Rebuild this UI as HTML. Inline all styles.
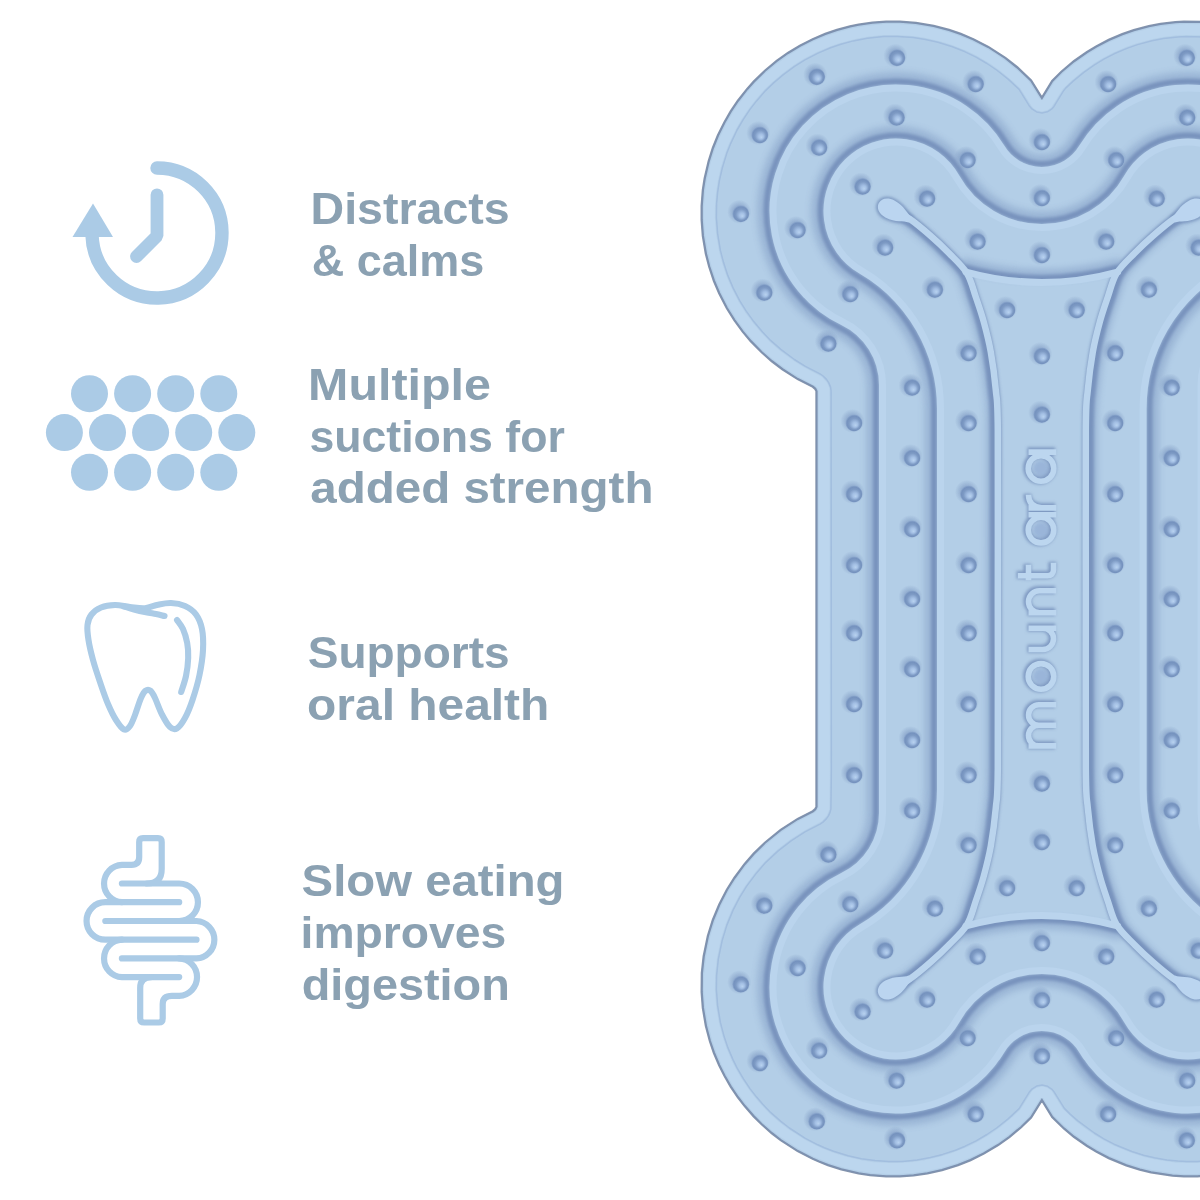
<!DOCTYPE html>
<html><head><meta charset="utf-8"><style>
html,body{margin:0;padding:0;background:#fff;}
body{width:1200px;height:1200px;position:relative;overflow:hidden;}
svg{position:absolute;left:0;top:0;}
.t{font-family:"Liberation Sans",sans-serif;font-weight:bold;font-size:44px;fill:#8ba1b2;}
.ic{fill:none;stroke:#abcbe6;stroke-linecap:round;stroke-linejoin:round;}
</style></head><body>

<svg class="bone" width="1200" height="1200" viewBox="0 0 1200 1200">
<defs>
 <radialGradient id="dg" cx="50%" cy="50%" r="50%" fx="60%" fy="64%">
  <stop offset="0" stop-color="#b8d2ef"/>
  <stop offset="0.3" stop-color="#a3bfe4"/>
  <stop offset="0.65" stop-color="#7d9ac4"/>
  <stop offset="0.85" stop-color="#7592be"/>
  <stop offset="1" stop-color="#8fabd0"/>
 </radialGradient>
 <radialGradient id="dh" cx="50%" cy="50%" r="50%">
  <stop offset="0.45" stop-color="#8aa5ca" stop-opacity="0.85"/>
  <stop offset="1" stop-color="#8aa5ca" stop-opacity="0"/>
 </radialGradient>
 <g id="dot"><circle r="12" cx="-1.5" cy="-2" fill="url(#dh)"/><circle r="8.5" fill="url(#dg)"/></g>
 <filter id="b1" filterUnits="userSpaceOnUse" x="-2000" y="-2000" width="4000" height="4000"><feGaussianBlur stdDeviation="1.4"/></filter>
 <filter id="b2" filterUnits="userSpaceOnUse" x="-2000" y="-2000" width="4000" height="4000"><feGaussianBlur stdDeviation="0.7"/></filter>
 <filter id="b3" filterUnits="userSpaceOnUse" x="-2000" y="-2000" width="4000" height="4000"><feGaussianBlur stdDeviation="3"/></filter>
 <clipPath id="bc"><path d="M1197.4,1176.0 L1183.9,1176.0 L1172.4,1175.2 L1151.1,1172.0 L1139.9,1169.2 L1126.4,1165.0 L1108.9,1157.8 L1096.4,1151.2 L1086.9,1145.5 L1074.1,1136.5 L1064.1,1128.2 L1052.5,1116.9 L1041.9,1099.5 L1030.8,1117.4 L1020.9,1127.0 L1009.1,1136.8 L997.9,1144.8 L983.6,1153.2 L970.4,1159.8 L957.9,1164.8 L941.9,1169.8 L927.4,1173.0 L913.6,1175.0 L899.9,1176.0 L886.1,1176.0 L870.1,1174.8 L858.6,1173.0 L841.4,1169.0 L828.1,1164.8 L819.1,1161.2 L812.9,1158.5 L797.9,1150.8 L780.9,1139.8 L772.1,1133.0 L761.9,1124.0 L754.0,1116.1 L745.0,1105.9 L738.2,1097.1 L731.0,1086.4 L724.8,1075.6 L719.5,1065.1 L714.2,1052.6 L710.2,1040.9 L706.2,1025.6 L703.2,1007.9 L702.0,991.9 L702.2,973.1 L704.0,956.6 L708.2,936.1 L713.2,920.1 L719.5,904.9 L727.2,889.9 L734.8,877.9 L745.0,864.1 L754.0,853.9 L765.1,843.0 L780.9,830.2 L797.9,819.2 L813.1,811.5 L815.5,809.4 L816.8,806.9 L816.8,391.1 L815.5,388.6 L813.1,386.5 L797.9,378.8 L782.6,369.0 L772.1,361.0 L761.9,352.0 L751.0,340.9 L743.0,331.4 L734.8,320.1 L727.2,308.1 L719.5,293.1 L714.2,280.6 L709.5,266.4 L706.2,253.6 L703.2,235.9 L702.0,219.9 L702.0,206.1 L703.2,190.1 L705.0,178.6 L709.0,161.4 L713.2,148.1 L718.2,135.6 L724.8,122.4 L731.0,111.6 L738.2,100.9 L747.5,89.1 L754.0,81.9 L765.1,71.0 L776.9,61.2 L788.1,53.2 L800.1,46.0 L812.9,39.5 L825.4,34.2 L837.1,30.2 L850.1,26.8 L858.6,25.0 L872.4,23.0 L886.1,22.0 L899.9,22.0 L915.9,23.2 L933.6,26.2 L948.9,30.2 L960.6,34.2 L973.1,39.5 L988.1,47.2 L1005.1,58.2 L1016.9,67.5 L1030.8,80.6 L1041.9,98.5 L1052.5,81.1 L1061.6,72.0 L1074.1,61.5 L1086.9,52.5 L1096.4,46.8 L1108.9,40.2 L1122.4,34.5 L1133.9,30.5 L1148.9,26.5 L1160.6,24.2 L1175.4,22.5 L1183.9,22.0 L1202.4,22.2 L1215.4,23.5 L1232.4,26.5 L1244.9,29.8 L1256.9,33.8 L1267.4,38.0 L1278.9,43.5 L1289.1,49.2 L1300.6,56.8 L1309.6,63.5 L1320.4,72.8 L1331.0,83.4 L1336.5,89.6 L1344.2,99.4 L1351.0,109.1 L1357.8,120.4 L1363.8,132.1 L1369.2,145.1 L1372.5,154.4 L1377.5,173.1 L1380.2,189.4 L1381.5,203.9 L1381.5,222.1 L1379.8,240.4 L1376.2,258.4 L1371.2,275.4 L1365.0,291.1 L1359.2,302.9 L1351.0,316.9 L1342.8,328.6 L1331.0,342.6 L1320.4,353.2 L1307.4,364.2 L1300.6,369.2 L1289.1,376.8 L1278.9,382.5 L1270.4,386.5 L1268.0,388.6 L1266.8,391.1 L1266.8,806.9 L1268.0,809.4 L1269.6,811.0 L1282.1,817.2 L1292.4,823.2 L1307.4,833.8 L1320.4,844.8 L1331.0,855.4 L1342.8,869.4 L1351.0,881.1 L1359.2,895.1 L1366.0,909.1 L1371.2,922.6 L1375.8,937.6 L1379.2,954.4 L1381.5,975.9 L1381.5,994.1 L1380.8,1004.1 L1379.0,1017.1 L1375.8,1032.4 L1371.2,1047.4 L1365.0,1063.1 L1357.8,1077.6 L1348.0,1093.4 L1339.0,1105.4 L1331.0,1114.6 L1315.6,1129.5 L1302.4,1140.0 L1289.1,1148.8 L1273.4,1157.2 L1258.9,1163.5 L1244.9,1168.2 L1228.9,1172.2 L1213.4,1174.8 L1197.4,1176.0Z"/></clipPath>
</defs>
<path d="M1197.4,1176.0 L1183.9,1176.0 L1172.4,1175.2 L1151.1,1172.0 L1139.9,1169.2 L1126.4,1165.0 L1108.9,1157.8 L1096.4,1151.2 L1086.9,1145.5 L1074.1,1136.5 L1064.1,1128.2 L1052.5,1116.9 L1041.9,1099.5 L1030.8,1117.4 L1020.9,1127.0 L1009.1,1136.8 L997.9,1144.8 L983.6,1153.2 L970.4,1159.8 L957.9,1164.8 L941.9,1169.8 L927.4,1173.0 L913.6,1175.0 L899.9,1176.0 L886.1,1176.0 L870.1,1174.8 L858.6,1173.0 L841.4,1169.0 L828.1,1164.8 L819.1,1161.2 L812.9,1158.5 L797.9,1150.8 L780.9,1139.8 L772.1,1133.0 L761.9,1124.0 L754.0,1116.1 L745.0,1105.9 L738.2,1097.1 L731.0,1086.4 L724.8,1075.6 L719.5,1065.1 L714.2,1052.6 L710.2,1040.9 L706.2,1025.6 L703.2,1007.9 L702.0,991.9 L702.2,973.1 L704.0,956.6 L708.2,936.1 L713.2,920.1 L719.5,904.9 L727.2,889.9 L734.8,877.9 L745.0,864.1 L754.0,853.9 L765.1,843.0 L780.9,830.2 L797.9,819.2 L813.1,811.5 L815.5,809.4 L816.8,806.9 L816.8,391.1 L815.5,388.6 L813.1,386.5 L797.9,378.8 L782.6,369.0 L772.1,361.0 L761.9,352.0 L751.0,340.9 L743.0,331.4 L734.8,320.1 L727.2,308.1 L719.5,293.1 L714.2,280.6 L709.5,266.4 L706.2,253.6 L703.2,235.9 L702.0,219.9 L702.0,206.1 L703.2,190.1 L705.0,178.6 L709.0,161.4 L713.2,148.1 L718.2,135.6 L724.8,122.4 L731.0,111.6 L738.2,100.9 L747.5,89.1 L754.0,81.9 L765.1,71.0 L776.9,61.2 L788.1,53.2 L800.1,46.0 L812.9,39.5 L825.4,34.2 L837.1,30.2 L850.1,26.8 L858.6,25.0 L872.4,23.0 L886.1,22.0 L899.9,22.0 L915.9,23.2 L933.6,26.2 L948.9,30.2 L960.6,34.2 L973.1,39.5 L988.1,47.2 L1005.1,58.2 L1016.9,67.5 L1030.8,80.6 L1041.9,98.5 L1052.5,81.1 L1061.6,72.0 L1074.1,61.5 L1086.9,52.5 L1096.4,46.8 L1108.9,40.2 L1122.4,34.5 L1133.9,30.5 L1148.9,26.5 L1160.6,24.2 L1175.4,22.5 L1183.9,22.0 L1202.4,22.2 L1215.4,23.5 L1232.4,26.5 L1244.9,29.8 L1256.9,33.8 L1267.4,38.0 L1278.9,43.5 L1289.1,49.2 L1300.6,56.8 L1309.6,63.5 L1320.4,72.8 L1331.0,83.4 L1336.5,89.6 L1344.2,99.4 L1351.0,109.1 L1357.8,120.4 L1363.8,132.1 L1369.2,145.1 L1372.5,154.4 L1377.5,173.1 L1380.2,189.4 L1381.5,203.9 L1381.5,222.1 L1379.8,240.4 L1376.2,258.4 L1371.2,275.4 L1365.0,291.1 L1359.2,302.9 L1351.0,316.9 L1342.8,328.6 L1331.0,342.6 L1320.4,353.2 L1307.4,364.2 L1300.6,369.2 L1289.1,376.8 L1278.9,382.5 L1270.4,386.5 L1268.0,388.6 L1266.8,391.1 L1266.8,806.9 L1268.0,809.4 L1269.6,811.0 L1282.1,817.2 L1292.4,823.2 L1307.4,833.8 L1320.4,844.8 L1331.0,855.4 L1342.8,869.4 L1351.0,881.1 L1359.2,895.1 L1366.0,909.1 L1371.2,922.6 L1375.8,937.6 L1379.2,954.4 L1381.5,975.9 L1381.5,994.1 L1380.8,1004.1 L1379.0,1017.1 L1375.8,1032.4 L1371.2,1047.4 L1365.0,1063.1 L1357.8,1077.6 L1348.0,1093.4 L1339.0,1105.4 L1331.0,1114.6 L1315.6,1129.5 L1302.4,1140.0 L1289.1,1148.8 L1273.4,1157.2 L1258.9,1163.5 L1244.9,1168.2 L1228.9,1172.2 L1213.4,1174.8 L1197.4,1176.0Z" fill="none" stroke="#8796ad" stroke-width="3" filter="url(#b2)"/>
<path d="M1197.4,1176.0 L1183.9,1176.0 L1172.4,1175.2 L1151.1,1172.0 L1139.9,1169.2 L1126.4,1165.0 L1108.9,1157.8 L1096.4,1151.2 L1086.9,1145.5 L1074.1,1136.5 L1064.1,1128.2 L1052.5,1116.9 L1041.9,1099.5 L1030.8,1117.4 L1020.9,1127.0 L1009.1,1136.8 L997.9,1144.8 L983.6,1153.2 L970.4,1159.8 L957.9,1164.8 L941.9,1169.8 L927.4,1173.0 L913.6,1175.0 L899.9,1176.0 L886.1,1176.0 L870.1,1174.8 L858.6,1173.0 L841.4,1169.0 L828.1,1164.8 L819.1,1161.2 L812.9,1158.5 L797.9,1150.8 L780.9,1139.8 L772.1,1133.0 L761.9,1124.0 L754.0,1116.1 L745.0,1105.9 L738.2,1097.1 L731.0,1086.4 L724.8,1075.6 L719.5,1065.1 L714.2,1052.6 L710.2,1040.9 L706.2,1025.6 L703.2,1007.9 L702.0,991.9 L702.2,973.1 L704.0,956.6 L708.2,936.1 L713.2,920.1 L719.5,904.9 L727.2,889.9 L734.8,877.9 L745.0,864.1 L754.0,853.9 L765.1,843.0 L780.9,830.2 L797.9,819.2 L813.1,811.5 L815.5,809.4 L816.8,806.9 L816.8,391.1 L815.5,388.6 L813.1,386.5 L797.9,378.8 L782.6,369.0 L772.1,361.0 L761.9,352.0 L751.0,340.9 L743.0,331.4 L734.8,320.1 L727.2,308.1 L719.5,293.1 L714.2,280.6 L709.5,266.4 L706.2,253.6 L703.2,235.9 L702.0,219.9 L702.0,206.1 L703.2,190.1 L705.0,178.6 L709.0,161.4 L713.2,148.1 L718.2,135.6 L724.8,122.4 L731.0,111.6 L738.2,100.9 L747.5,89.1 L754.0,81.9 L765.1,71.0 L776.9,61.2 L788.1,53.2 L800.1,46.0 L812.9,39.5 L825.4,34.2 L837.1,30.2 L850.1,26.8 L858.6,25.0 L872.4,23.0 L886.1,22.0 L899.9,22.0 L915.9,23.2 L933.6,26.2 L948.9,30.2 L960.6,34.2 L973.1,39.5 L988.1,47.2 L1005.1,58.2 L1016.9,67.5 L1030.8,80.6 L1041.9,98.5 L1052.5,81.1 L1061.6,72.0 L1074.1,61.5 L1086.9,52.5 L1096.4,46.8 L1108.9,40.2 L1122.4,34.5 L1133.9,30.5 L1148.9,26.5 L1160.6,24.2 L1175.4,22.5 L1183.9,22.0 L1202.4,22.2 L1215.4,23.5 L1232.4,26.5 L1244.9,29.8 L1256.9,33.8 L1267.4,38.0 L1278.9,43.5 L1289.1,49.2 L1300.6,56.8 L1309.6,63.5 L1320.4,72.8 L1331.0,83.4 L1336.5,89.6 L1344.2,99.4 L1351.0,109.1 L1357.8,120.4 L1363.8,132.1 L1369.2,145.1 L1372.5,154.4 L1377.5,173.1 L1380.2,189.4 L1381.5,203.9 L1381.5,222.1 L1379.8,240.4 L1376.2,258.4 L1371.2,275.4 L1365.0,291.1 L1359.2,302.9 L1351.0,316.9 L1342.8,328.6 L1331.0,342.6 L1320.4,353.2 L1307.4,364.2 L1300.6,369.2 L1289.1,376.8 L1278.9,382.5 L1270.4,386.5 L1268.0,388.6 L1266.8,391.1 L1266.8,806.9 L1268.0,809.4 L1269.6,811.0 L1282.1,817.2 L1292.4,823.2 L1307.4,833.8 L1320.4,844.8 L1331.0,855.4 L1342.8,869.4 L1351.0,881.1 L1359.2,895.1 L1366.0,909.1 L1371.2,922.6 L1375.8,937.6 L1379.2,954.4 L1381.5,975.9 L1381.5,994.1 L1380.8,1004.1 L1379.0,1017.1 L1375.8,1032.4 L1371.2,1047.4 L1365.0,1063.1 L1357.8,1077.6 L1348.0,1093.4 L1339.0,1105.4 L1331.0,1114.6 L1315.6,1129.5 L1302.4,1140.0 L1289.1,1148.8 L1273.4,1157.2 L1258.9,1163.5 L1244.9,1168.2 L1228.9,1172.2 L1213.4,1174.8 L1197.4,1176.0Z" fill="#b3cee7" stroke="#7d91b0" stroke-width="1.6"/>
<g clip-path="url(#bc)" fill="none" stroke-linejoin="round" stroke-linecap="round">
 <path d="M1197.4,1168.4 L1185.6,1168.6 L1174.1,1167.9 L1152.9,1164.6 L1141.9,1162.0 L1129.6,1158.1 L1111.4,1150.6 L1100.4,1144.9 L1090.9,1139.1 L1081.4,1132.5 L1071.9,1125.0 L1058.7,1112.6 L1047.5,1094.6 L1045.1,1092.9 L1042.1,1092.1 L1038.9,1092.8 L1036.3,1094.6 L1024.5,1113.1 L1016.6,1120.8 L1003.9,1131.3 L993.9,1138.4 L979.6,1146.9 L967.9,1152.6 L955.1,1157.7 L939.9,1162.5 L925.6,1165.6 L911.9,1167.6 L898.1,1168.6 L887.9,1168.6 L871.9,1167.4 L860.4,1165.6 L846.1,1162.5 L831.4,1157.9 L821.9,1154.2 L815.4,1151.4 L801.9,1144.4 L785.1,1133.5 L776.4,1126.8 L766.1,1117.8 L757.2,1108.6 L751.2,1101.6 L744.5,1092.9 L737.4,1082.4 L731.1,1071.6 L726.6,1062.6 L721.3,1049.9 L717.6,1039.1 L713.6,1023.9 L710.6,1006.1 L709.4,990.1 L709.6,974.9 L711.6,956.9 L715.5,938.1 L720.3,922.9 L726.6,907.4 L733.6,893.9 L740.6,882.6 L751.2,868.4 L760.4,858.0 L773.4,845.7 L786.9,835.2 L801.9,825.6 L818.4,816.9 L822.2,812.6 L824.0,808.1 L824.4,769.9 L824.1,391.1 L823.8,388.9 L822.4,385.6 L818.4,381.1 L801.9,372.4 L790.6,365.4 L776.4,354.8 L766.1,345.8 L757.2,336.6 L749.2,327.1 L740.6,315.4 L733.6,304.1 L726.6,290.6 L721.3,277.9 L716.8,264.4 L713.6,251.9 L710.6,234.1 L709.4,218.1 L709.4,207.9 L710.6,191.9 L712.4,180.4 L715.5,166.1 L720.1,151.4 L723.9,141.6 L731.1,126.4 L737.4,115.6 L744.5,105.1 L751.2,96.4 L760.2,86.1 L769.4,77.2 L778.9,69.2 L790.6,60.6 L801.9,53.6 L815.4,46.6 L828.1,41.3 L838.9,37.6 L854.1,33.6 L868.1,31.1 L882.9,29.6 L898.1,29.4 L911.9,30.4 L925.6,32.4 L939.9,35.5 L954.6,40.1 L967.9,45.4 L979.6,51.1 L993.9,59.6 L1003.9,66.7 L1016.6,77.2 L1024.5,84.9 L1036.3,103.4 L1038.9,105.2 L1041.9,105.9 L1044.9,105.2 L1047.2,103.6 L1058.7,85.4 L1068.4,76.0 L1078.4,67.7 L1090.1,59.4 L1100.4,53.1 L1111.4,47.4 L1125.1,41.5 L1135.6,37.9 L1150.6,33.9 L1162.4,31.6 L1177.1,29.9 L1185.6,29.4 L1204.1,29.9 L1218.9,31.6 L1230.6,33.9 L1239.4,36.0 L1251.4,39.8 L1264.9,45.1 L1274.9,49.9 L1285.1,55.6 L1295.9,62.6 L1305.4,69.7 L1313.4,76.5 L1324.8,87.6 L1330.3,93.9 L1338.0,103.6 L1344.6,113.1 L1351.4,124.4 L1356.6,134.6 L1362.2,147.9 L1365.1,156.1 L1368.9,169.4 L1372.4,187.4 L1374.1,205.6 L1374.1,220.4 L1372.4,238.6 L1368.7,257.4 L1364.4,272.1 L1357.9,288.6 L1351.4,301.6 L1344.1,313.6 L1334.8,326.6 L1324.8,338.4 L1313.4,349.5 L1298.1,361.8 L1285.1,370.4 L1264.9,381.3 L1261.3,385.4 L1259.5,389.9 L1259.1,428.1 L1259.4,806.9 L1259.7,809.1 L1261.1,812.4 L1265.1,816.9 L1282.1,825.9 L1295.9,834.6 L1305.4,841.7 L1316.3,851.1 L1327.0,862.1 L1336.5,873.6 L1344.6,885.1 L1352.9,899.1 L1358.9,911.6 L1364.4,925.9 L1368.5,939.6 L1371.6,954.6 L1373.4,967.6 L1374.1,977.6 L1373.9,996.6 L1371.6,1015.4 L1368.5,1030.4 L1364.4,1044.1 L1358.9,1058.4 L1351.4,1073.6 L1344.1,1085.6 L1334.8,1098.6 L1324.8,1110.4 L1313.4,1121.5 L1302.1,1130.8 L1288.4,1140.4 L1274.9,1148.1 L1261.1,1154.5 L1246.4,1159.9 L1230.6,1164.1 L1213.6,1167.1 L1197.4,1168.4Z" stroke="#bcd6ee" stroke-width="11" filter="url(#b2)"/>
 <path d="M1197.4,1161.4 L1186.4,1161.6 L1177.9,1161.1 L1166.9,1159.9 L1154.4,1157.8 L1143.6,1155.2 L1131.9,1151.5 L1114.1,1144.2 L1103.9,1138.8 L1094.4,1133.0 L1077.9,1120.9 L1070.4,1114.4 L1064.4,1108.4 L1054.1,1091.9 L1052.1,1089.4 L1047.6,1086.3 L1042.1,1085.1 L1036.6,1086.1 L1031.9,1089.1 L1029.0,1092.6 L1019.1,1108.6 L1008.1,1118.9 L996.6,1128.0 L986.9,1134.5 L976.1,1140.8 L965.1,1146.2 L955.4,1150.2 L942.6,1154.4 L930.4,1157.6 L917.1,1159.9 L902.4,1161.4 L888.6,1161.6 L874.9,1160.6 L861.4,1158.7 L848.1,1155.7 L833.6,1151.3 L824.4,1147.7 L817.9,1144.8 L805.4,1138.3 L789.4,1128.0 L780.9,1121.4 L770.6,1112.4 L762.6,1104.1 L756.6,1097.1 L750.0,1088.6 L743.5,1078.9 L737.2,1068.1 L733.1,1059.9 L727.8,1047.4 L724.3,1037.1 L720.4,1022.4 L717.6,1005.4 L716.4,989.4 L716.6,975.6 L718.3,959.4 L722.1,940.9 L726.8,925.4 L733.1,910.1 L739.7,897.4 L746.5,886.4 L756.6,872.9 L765.6,862.6 L777.9,851.1 L791.1,840.8 L805.4,831.7 L820.1,824.1 L823.0,822.1 L826.3,818.9 L828.3,816.1 L829.9,812.9 L830.9,809.1 L831.4,769.9 L831.1,391.1 L830.6,387.1 L828.7,382.6 L826.5,379.4 L823.1,376.0 L820.1,373.9 L805.4,366.3 L794.4,359.5 L780.9,349.4 L770.6,340.4 L762.6,332.1 L752.9,320.4 L745.9,310.6 L739.7,300.6 L733.1,287.9 L727.8,275.4 L723.6,262.6 L720.4,250.4 L717.6,233.4 L716.4,217.4 L716.6,203.6 L717.6,192.6 L719.4,180.6 L722.3,168.1 L726.7,153.6 L730.3,144.4 L737.1,130.0 L743.5,119.1 L750.0,109.4 L756.6,100.9 L765.6,90.6 L773.9,82.6 L783.4,74.6 L794.6,66.4 L805.4,59.7 L818.1,53.1 L830.6,47.8 L840.9,44.3 L853.4,40.9 L867.4,38.3 L883.6,36.6 L897.4,36.4 L913.4,37.6 L925.4,39.4 L937.9,42.3 L952.4,46.7 L965.1,51.8 L976.0,57.1 L986.9,63.5 L996.6,70.0 L1008.1,79.1 L1019.1,89.4 L1029.0,105.4 L1031.9,108.9 L1036.6,111.9 L1042.1,112.9 L1047.4,111.8 L1051.9,108.9 L1054.0,106.4 L1063.2,91.4 L1065.7,88.1 L1072.9,81.4 L1083.5,72.6 L1094.1,65.1 L1103.9,59.2 L1114.1,53.8 L1127.6,48.1 L1137.6,44.6 L1152.1,40.7 L1163.4,38.6 L1177.9,36.9 L1186.4,36.4 L1203.4,36.9 L1217.9,38.6 L1229.1,40.7 L1248.9,46.3 L1258.6,50.1 L1271.2,55.9 L1281.6,61.7 L1292.1,68.5 L1300.9,75.1 L1308.9,81.9 L1319.4,92.1 L1324.9,98.4 L1331.7,106.9 L1338.4,116.4 L1345.3,127.9 L1350.2,137.4 L1355.7,150.4 L1358.4,158.1 L1363.3,176.4 L1365.9,191.9 L1367.1,206.4 L1366.9,223.9 L1364.9,240.9 L1361.7,256.4 L1356.4,273.6 L1350.2,288.6 L1343.3,301.6 L1336.2,312.9 L1328.4,323.4 L1319.4,333.9 L1306.9,345.9 L1292.1,357.5 L1278.6,366.0 L1263.4,373.9 L1260.4,376.0 L1257.2,379.1 L1255.2,381.9 L1253.6,385.1 L1252.6,388.9 L1252.1,428.1 L1252.4,806.9 L1252.9,810.9 L1254.8,815.4 L1257.0,818.6 L1260.2,821.9 L1263.4,824.1 L1281.6,833.7 L1292.1,840.5 L1306.9,852.1 L1319.4,864.1 L1328.4,874.6 L1336.2,885.1 L1346.8,902.6 L1352.4,914.4 L1357.8,928.1 L1361.9,942.4 L1364.7,955.9 L1366.4,968.4 L1367.1,978.4 L1366.9,995.9 L1364.7,1014.1 L1361.9,1027.6 L1357.8,1041.9 L1352.4,1055.6 L1345.3,1070.1 L1338.4,1081.6 L1329.4,1094.1 L1319.4,1105.9 L1308.9,1116.1 L1298.0,1125.1 L1284.9,1134.3 L1271.2,1142.1 L1257.4,1148.4 L1244.4,1153.2 L1229.1,1157.3 L1212.9,1160.1 L1197.4,1161.4Z" stroke="#a2bedf" stroke-width="1.5" filter="url(#b2)"/>
 <g filter="url(#b3)" stroke="#7d98c1" stroke-width="12" opacity="0.45">
  <path d="M1010.01,142.50 A37.09,37.09 0 0 0 1073.59,142.50 A133.00,133.00 0 1 1 1245.14,330.91 A60.00,60.00 0 0 0 1211.10,385.00 L1211.10,813.00 A60.00,60.00 0 0 0 1245.14,867.09 A133.00,133.00 0 1 1 1073.59,1055.50 A37.09,37.09 0 0 0 1010.01,1055.50 A133.00,133.00 0 1 1 838.46,867.09 A60.00,60.00 0 0 0 872.50,813.00 L872.50,385.00 A60.00,60.00 0 0 0 838.46,330.91 A133.00,133.00 0 1 1 1010.01,142.50Z"/><path d="M964.94,172.42 A88.08,88.08 0 0 0 1118.66,172.42 A79.00,79.00 0 1 1 1227.44,279.22 A150.00,150.00 0 0 0 1153.10,408.74 L1153.10,789.26 A150.00,150.00 0 0 0 1227.44,918.78 A79.00,79.00 0 1 1 1118.66,1025.58 A88.08,88.08 0 0 0 964.94,1025.58 A79.00,79.00 0 1 1 856.16,918.78 A150.00,150.00 0 0 0 930.50,789.26 L930.50,408.74 A150.00,150.00 0 0 0 856.16,279.22 A79.00,79.00 0 1 1 964.94,172.42Z"/>
  <path d="M893.0,211.0 C895.7,212.3 902.8,214.8 909.0,219.0 C915.2,223.2 923.5,230.3 930.0,236.0 C936.5,241.7 942.0,246.8 948.0,253.0 C954.0,259.2 961.5,265.7 966.0,273.0 C970.5,280.3 972.2,288.8 975.0,297.0 C977.8,305.2 980.5,312.8 983.0,322.0 C985.5,331.2 988.0,340.7 990.0,352.0 C992.0,363.3 993.8,377.0 995.0,390.0 C996.2,403.0 996.7,395.2 997.0,430.0 C997.3,464.8 997.0,542.7 997.0,599.0 C997.0,655.3 997.3,733.2 997.0,768.0 C996.7,802.8 996.2,795.0 995.0,808.0 C993.8,821.0 992.0,834.7 990.0,846.0 C988.0,857.3 985.5,866.8 983.0,876.0 C980.5,885.2 977.8,892.8 975.0,901.0 C972.2,909.2 970.5,917.7 966.0,925.0 C961.5,932.3 954.0,938.8 948.0,945.0 C942.0,951.2 936.5,956.3 930.0,962.0 C923.5,967.7 915.2,974.8 909.0,979.0 C902.8,983.2 895.7,985.7 893.0,987.0" transform="translate(-5,0)"/><path d="M1190.6,211.0 C1187.9,212.3 1180.8,214.8 1174.6,219.0 C1168.4,223.2 1160.1,230.3 1153.6,236.0 C1147.1,241.7 1141.6,246.8 1135.6,253.0 C1129.6,259.2 1122.1,265.7 1117.6,273.0 C1113.1,280.3 1111.4,288.8 1108.6,297.0 C1105.8,305.2 1103.1,312.8 1100.6,322.0 C1098.1,331.2 1095.6,340.7 1093.6,352.0 C1091.6,363.3 1089.8,377.0 1088.6,390.0 C1087.4,403.0 1086.9,395.2 1086.6,430.0 C1086.3,464.8 1086.6,542.7 1086.6,599.0 C1086.6,655.3 1086.3,733.2 1086.6,768.0 C1086.9,802.8 1087.4,795.0 1088.6,808.0 C1089.8,821.0 1091.6,834.7 1093.6,846.0 C1095.6,857.3 1098.1,866.8 1100.6,876.0 C1103.1,885.2 1105.8,892.8 1108.6,901.0 C1111.4,909.2 1113.1,917.7 1117.6,925.0 C1122.1,932.3 1129.6,938.8 1135.6,945.0 C1141.6,951.2 1147.1,956.3 1153.6,962.0 C1160.1,967.7 1168.4,974.8 1174.6,979.0 C1180.8,983.2 1187.9,985.7 1190.6,987.0" transform="translate(5,0)"/>
  <path d="M966,270.5 Q1041.8,291.5 1117.6,270.5" transform="translate(0,-6)"/><path d="M966,927.5 Q1041.8,906.5 1117.6,927.5" transform="translate(0,6)"/>
 </g>
 <g filter="url(#b1)" stroke="#7893bd" stroke-width="6">
  <path d="M1007.01,144.31 A40.59,40.59 0 0 0 1076.59,144.31 A129.50,129.50 0 1 1 1243.63,327.75 A63.50,63.50 0 0 0 1207.60,385.00 L1207.60,813.00 A63.50,63.50 0 0 0 1243.63,870.25 A129.50,129.50 0 1 1 1076.59,1053.69 A40.59,40.59 0 0 0 1007.01,1053.69 A129.50,129.50 0 1 1 839.97,870.25 A63.50,63.50 0 0 0 876.00,813.00 L876.00,385.00 A63.50,63.50 0 0 0 839.97,327.75 A129.50,129.50 0 1 1 1007.01,144.31Z"/><path d="M961.88,174.13 A91.58,91.58 0 0 0 1121.72,174.13 A75.50,75.50 0 1 1 1225.68,276.19 A153.50,153.50 0 0 0 1149.60,408.74 L1149.60,789.26 A153.50,153.50 0 0 0 1225.68,921.81 A75.50,75.50 0 1 1 1121.72,1023.87 A91.58,91.58 0 0 0 961.88,1023.87 A75.50,75.50 0 1 1 857.92,921.81 A153.50,153.50 0 0 0 934.00,789.26 L934.00,408.74 A153.50,153.50 0 0 0 857.92,276.19 A75.50,75.50 0 1 1 961.88,174.13Z"/>
  <path d="M893.0,211.0 C895.7,212.3 902.8,214.8 909.0,219.0 C915.2,223.2 923.5,230.3 930.0,236.0 C936.5,241.7 942.0,246.8 948.0,253.0 C954.0,259.2 961.5,265.7 966.0,273.0 C970.5,280.3 972.2,288.8 975.0,297.0 C977.8,305.2 980.5,312.8 983.0,322.0 C985.5,331.2 988.0,340.7 990.0,352.0 C992.0,363.3 993.8,377.0 995.0,390.0 C996.2,403.0 996.7,395.2 997.0,430.0 C997.3,464.8 997.0,542.7 997.0,599.0 C997.0,655.3 997.3,733.2 997.0,768.0 C996.7,802.8 996.2,795.0 995.0,808.0 C993.8,821.0 992.0,834.7 990.0,846.0 C988.0,857.3 985.5,866.8 983.0,876.0 C980.5,885.2 977.8,892.8 975.0,901.0 C972.2,909.2 970.5,917.7 966.0,925.0 C961.5,932.3 954.0,938.8 948.0,945.0 C942.0,951.2 936.5,956.3 930.0,962.0 C923.5,967.7 915.2,974.8 909.0,979.0 C902.8,983.2 895.7,985.7 893.0,987.0" transform="translate(-1.5,0)" stroke-width="11.5"/><path d="M1190.6,211.0 C1187.9,212.3 1180.8,214.8 1174.6,219.0 C1168.4,223.2 1160.1,230.3 1153.6,236.0 C1147.1,241.7 1141.6,246.8 1135.6,253.0 C1129.6,259.2 1122.1,265.7 1117.6,273.0 C1113.1,280.3 1111.4,288.8 1108.6,297.0 C1105.8,305.2 1103.1,312.8 1100.6,322.0 C1098.1,331.2 1095.6,340.7 1093.6,352.0 C1091.6,363.3 1089.8,377.0 1088.6,390.0 C1087.4,403.0 1086.9,395.2 1086.6,430.0 C1086.3,464.8 1086.6,542.7 1086.6,599.0 C1086.6,655.3 1086.3,733.2 1086.6,768.0 C1086.9,802.8 1087.4,795.0 1088.6,808.0 C1089.8,821.0 1091.6,834.7 1093.6,846.0 C1095.6,857.3 1098.1,866.8 1100.6,876.0 C1103.1,885.2 1105.8,892.8 1108.6,901.0 C1111.4,909.2 1113.1,917.7 1117.6,925.0 C1122.1,932.3 1129.6,938.8 1135.6,945.0 C1141.6,951.2 1147.1,956.3 1153.6,962.0 C1160.1,967.7 1168.4,974.8 1174.6,979.0 C1180.8,983.2 1187.9,985.7 1190.6,987.0" transform="translate(1.5,0)" stroke-width="11.5"/>
  <path d="M966,270.5 Q1041.8,291.5 1117.6,270.5" transform="translate(0,-3)"/><path d="M966,927.5 Q1041.8,906.5 1117.6,927.5" transform="translate(0,3)"/>
 </g>
 <g fill="none" stroke="#7c97c0" stroke-width="3.5" filter="url(#b1)"><path d="M24,-3.2 C18,-3.6 13,-9.6 1,-9.6 C-7,-9.6 -11.5,-5 -11.5,0 C-11.5,5 -7,9.6 1,9.6 C13,9.6 18,3.6 24,3.2 Z" transform="translate(889.0,208.5) rotate(28)"/><path d="M24,-3.2 C18,-3.6 13,-9.6 1,-9.6 C-7,-9.6 -11.5,-5 -11.5,0 C-11.5,5 -7,9.6 1,9.6 C13,9.6 18,3.6 24,3.2 Z" transform="translate(889.0,989.5) rotate(-28)"/><path d="M24,-3.2 C18,-3.6 13,-9.6 1,-9.6 C-7,-9.6 -11.5,-5 -11.5,0 C-11.5,5 -7,9.6 1,9.6 C13,9.6 18,3.6 24,3.2 Z" transform="translate(1194.6,208.5) rotate(152)"/><path d="M24,-3.2 C18,-3.6 13,-9.6 1,-9.6 C-7,-9.6 -11.5,-5 -11.5,0 C-11.5,5 -7,9.6 1,9.6 C13,9.6 18,3.6 24,3.2 Z" transform="translate(1194.6,989.5) rotate(-152)"/></g>
 <g filter="url(#b2)" stroke="#bad4ed" stroke-width="7">
  <path d="M1001.43,147.65 A47.09,47.09 0 0 0 1082.17,147.65 A123.00,123.00 0 1 1 1240.82,321.89 A70.00,70.00 0 0 0 1201.10,385.00 L1201.10,813.00 A70.00,70.00 0 0 0 1240.82,876.11 A123.00,123.00 0 1 1 1082.17,1050.35 A47.09,47.09 0 0 0 1001.43,1050.35 A123.00,123.00 0 1 1 842.78,876.11 A70.00,70.00 0 0 0 882.50,813.00 L882.50,385.00 A70.00,70.00 0 0 0 842.78,321.89 A123.00,123.00 0 1 1 1001.43,147.65Z"/><path d="M956.21,177.30 A98.08,98.08 0 0 0 1127.39,177.30 A69.00,69.00 0 1 1 1222.40,270.58 A160.00,160.00 0 0 0 1143.10,408.74 L1143.10,789.26 A160.00,160.00 0 0 0 1222.40,927.42 A69.00,69.00 0 1 1 1127.39,1020.70 A98.08,98.08 0 0 0 956.21,1020.70 A69.00,69.00 0 1 1 861.20,927.42 A160.00,160.00 0 0 0 940.50,789.26 L940.50,408.74 A160.00,160.00 0 0 0 861.20,270.58 A69.00,69.00 0 1 1 956.21,177.30Z"/>
  <path d="M893.0,211.0 C895.7,212.3 902.8,214.8 909.0,219.0 C915.2,223.2 923.5,230.3 930.0,236.0 C936.5,241.7 942.0,246.8 948.0,253.0 C954.0,259.2 961.5,265.7 966.0,273.0 C970.5,280.3 972.2,288.8 975.0,297.0 C977.8,305.2 980.5,312.8 983.0,322.0 C985.5,331.2 988.0,340.7 990.0,352.0 C992.0,363.3 993.8,377.0 995.0,390.0 C996.2,403.0 996.7,395.2 997.0,430.0 C997.3,464.8 997.0,542.7 997.0,599.0 C997.0,655.3 997.3,733.2 997.0,768.0 C996.7,802.8 996.2,795.0 995.0,808.0 C993.8,821.0 992.0,834.7 990.0,846.0 C988.0,857.3 985.5,866.8 983.0,876.0 C980.5,885.2 977.8,892.8 975.0,901.0 C972.2,909.2 970.5,917.7 966.0,925.0 C961.5,932.3 954.0,938.8 948.0,945.0 C942.0,951.2 936.5,956.3 930.0,962.0 C923.5,967.7 915.2,974.8 909.0,979.0 C902.8,983.2 895.7,985.7 893.0,987.0" transform="translate(0.8,0)" stroke-width="6.5"/><path d="M1190.6,211.0 C1187.9,212.3 1180.8,214.8 1174.6,219.0 C1168.4,223.2 1160.1,230.3 1153.6,236.0 C1147.1,241.7 1141.6,246.8 1135.6,253.0 C1129.6,259.2 1122.1,265.7 1117.6,273.0 C1113.1,280.3 1111.4,288.8 1108.6,297.0 C1105.8,305.2 1103.1,312.8 1100.6,322.0 C1098.1,331.2 1095.6,340.7 1093.6,352.0 C1091.6,363.3 1089.8,377.0 1088.6,390.0 C1087.4,403.0 1086.9,395.2 1086.6,430.0 C1086.3,464.8 1086.6,542.7 1086.6,599.0 C1086.6,655.3 1086.3,733.2 1086.6,768.0 C1086.9,802.8 1087.4,795.0 1088.6,808.0 C1089.8,821.0 1091.6,834.7 1093.6,846.0 C1095.6,857.3 1098.1,866.8 1100.6,876.0 C1103.1,885.2 1105.8,892.8 1108.6,901.0 C1111.4,909.2 1113.1,917.7 1117.6,925.0 C1122.1,932.3 1129.6,938.8 1135.6,945.0 C1141.6,951.2 1147.1,956.3 1153.6,962.0 C1160.1,967.7 1168.4,974.8 1174.6,979.0 C1180.8,983.2 1187.9,985.7 1190.6,987.0" transform="translate(-0.8,0)" stroke-width="6.5"/>
  <path d="M966,270.5 Q1041.8,291.5 1117.6,270.5" transform="translate(0,1.5)"/><path d="M966,927.5 Q1041.8,906.5 1117.6,927.5" transform="translate(0,-1.5)"/>
 </g>
 <g fill="#bbd5f0"><path d="M24,-3.2 C18,-3.6 13,-9.6 1,-9.6 C-7,-9.6 -11.5,-5 -11.5,0 C-11.5,5 -7,9.6 1,9.6 C13,9.6 18,3.6 24,3.2 Z" transform="translate(889.0,208.5) rotate(28)"/><path d="M24,-3.2 C18,-3.6 13,-9.6 1,-9.6 C-7,-9.6 -11.5,-5 -11.5,0 C-11.5,5 -7,9.6 1,9.6 C13,9.6 18,3.6 24,3.2 Z" transform="translate(889.0,989.5) rotate(-28)"/><path d="M24,-3.2 C18,-3.6 13,-9.6 1,-9.6 C-7,-9.6 -11.5,-5 -11.5,0 C-11.5,5 -7,9.6 1,9.6 C13,9.6 18,3.6 24,3.2 Z" transform="translate(1194.6,208.5) rotate(152)"/><path d="M24,-3.2 C18,-3.6 13,-9.6 1,-9.6 C-7,-9.6 -11.5,-5 -11.5,0 C-11.5,5 -7,9.6 1,9.6 C13,9.6 18,3.6 24,3.2 Z" transform="translate(1194.6,989.5) rotate(-152)"/></g>
 <g transform="translate(1056.3,750.7) rotate(-90)" fill="#9ab5d9" filter="url(#b1)"><circle cx="74.3" cy="-15.3" r="8"/><circle cx="220.6" cy="-15.3" r="8"/><circle cx="282.3" cy="-15.3" r="8"/></g>
 <g transform="translate(1056.3,750.7) rotate(-90)" fill="none" stroke-linecap="butt">
  <path d="M4.8,0 L4.8,-27.8 M4.8,-17.5 A10.3,10.3 0 0 1 25.4,-17.5 L25.4,0 M25.4,-17.5 A10.25,10.25 0 0 1 45.9,-17.5 L45.9,0 M87.1,-15.3 A12.8,12.8 0 1 1 61.5,-15.3 A12.8,12.8 0 1 1 87.1,-15.3 M101.2,-27.8 L101.2,-13.45 A10.65,10.65 0 0 0 122.5,-13.45 L122.5,-27.8 M122.5,-13.45 L122.5,0 M138,0 L138,-27.8 M138,-16.85 A10.95,10.95 0 0 1 159.9,-16.85 L159.9,0 M175,-38.5 L175,-9 Q175,-2.8 181,-2.8 L188,-2.8 M170.5,-27.8 L186,-27.8 M233.4,-15.3 A12.8,12.8 0 1 1 207.8,-15.3 A12.8,12.8 0 1 1 233.4,-15.3 M235.9,-27.8 L235.9,0 M242.8,0 L242.8,-27.8 M242.8,-15 Q244.5,-27.8 256,-27.8 M295.1,-15.3 A12.8,12.8 0 1 1 269.5,-15.3 A12.8,12.8 0 1 1 295.1,-15.3 M298.6,-27.8 L298.6,0" stroke="#7f9ac2" stroke-width="8" transform="translate(0.8,-1.2)" filter="url(#b1)"/>
  <path d="M4.8,0 L4.8,-27.8 M4.8,-17.5 A10.3,10.3 0 0 1 25.4,-17.5 L25.4,0 M25.4,-17.5 A10.25,10.25 0 0 1 45.9,-17.5 L45.9,0 M87.1,-15.3 A12.8,12.8 0 1 1 61.5,-15.3 A12.8,12.8 0 1 1 87.1,-15.3 M101.2,-27.8 L101.2,-13.45 A10.65,10.65 0 0 0 122.5,-13.45 L122.5,-27.8 M122.5,-13.45 L122.5,0 M138,0 L138,-27.8 M138,-16.85 A10.95,10.95 0 0 1 159.9,-16.85 L159.9,0 M175,-38.5 L175,-9 Q175,-2.8 181,-2.8 L188,-2.8 M170.5,-27.8 L186,-27.8 M233.4,-15.3 A12.8,12.8 0 1 1 207.8,-15.3 A12.8,12.8 0 1 1 233.4,-15.3 M235.9,-27.8 L235.9,0 M242.8,0 L242.8,-27.8 M242.8,-15 Q244.5,-27.8 256,-27.8 M295.1,-15.3 A12.8,12.8 0 1 1 269.5,-15.3 A12.8,12.8 0 1 1 295.1,-15.3 M298.6,-27.8 L298.6,0" stroke="#bcd6ef" stroke-width="5.6"/>
 </g>
 <use href="#dot" x="816.7" y="76.7"/>
<use href="#dot" x="816.7" y="1121.3"/>
<use href="#dot" x="896.9" y="57.7"/>
<use href="#dot" x="896.9" y="1140.3"/>
<use href="#dot" x="1186.7" y="57.7"/>
<use href="#dot" x="1186.7" y="1140.3"/>
<use href="#dot" x="975.6" y="84.0"/>
<use href="#dot" x="975.6" y="1114.0"/>
<use href="#dot" x="1108.0" y="84.0"/>
<use href="#dot" x="1108.0" y="1114.0"/>
<use href="#dot" x="759.8" y="135.0"/>
<use href="#dot" x="759.8" y="1063.0"/>
<use href="#dot" x="740.8" y="213.8"/>
<use href="#dot" x="740.8" y="984.2"/>
<use href="#dot" x="764.2" y="292.5"/>
<use href="#dot" x="764.2" y="905.5"/>
<use href="#dot" x="828.3" y="343.5"/>
<use href="#dot" x="828.3" y="854.5"/>
<use href="#dot" x="854.0" y="423.0"/>
<use href="#dot" x="854.0" y="775.0"/>
<use href="#dot" x="854.0" y="494.0"/>
<use href="#dot" x="854.0" y="704.0"/>
<use href="#dot" x="854.0" y="565.0"/>
<use href="#dot" x="854.0" y="633.0"/>
<use href="#dot" x="896.5" y="117.5"/>
<use href="#dot" x="896.5" y="1080.5"/>
<use href="#dot" x="1187.1" y="117.5"/>
<use href="#dot" x="1187.1" y="1080.5"/>
<use href="#dot" x="819.0" y="147.5"/>
<use href="#dot" x="819.0" y="1050.5"/>
<use href="#dot" x="967.5" y="160.0"/>
<use href="#dot" x="967.5" y="1038.0"/>
<use href="#dot" x="1116.1" y="160.0"/>
<use href="#dot" x="1116.1" y="1038.0"/>
<use href="#dot" x="797.5" y="230.0"/>
<use href="#dot" x="797.5" y="968.0"/>
<use href="#dot" x="850.2" y="294.0"/>
<use href="#dot" x="850.2" y="904.0"/>
<use href="#dot" x="912.0" y="387.5"/>
<use href="#dot" x="912.0" y="810.5"/>
<use href="#dot" x="1171.6" y="387.5"/>
<use href="#dot" x="1171.6" y="810.5"/>
<use href="#dot" x="912.0" y="458.0"/>
<use href="#dot" x="912.0" y="740.0"/>
<use href="#dot" x="1171.6" y="458.0"/>
<use href="#dot" x="1171.6" y="740.0"/>
<use href="#dot" x="912.0" y="529.0"/>
<use href="#dot" x="912.0" y="669.0"/>
<use href="#dot" x="1171.6" y="529.0"/>
<use href="#dot" x="1171.6" y="669.0"/>
<use href="#dot" x="862.5" y="186.5"/>
<use href="#dot" x="862.5" y="1011.5"/>
<use href="#dot" x="927.0" y="198.5"/>
<use href="#dot" x="927.0" y="999.5"/>
<use href="#dot" x="1156.6" y="198.5"/>
<use href="#dot" x="1156.6" y="999.5"/>
<use href="#dot" x="885.0" y="247.5"/>
<use href="#dot" x="885.0" y="950.5"/>
<use href="#dot" x="1198.6" y="247.5"/>
<use href="#dot" x="1198.6" y="950.5"/>
<use href="#dot" x="977.5" y="241.5"/>
<use href="#dot" x="977.5" y="956.5"/>
<use href="#dot" x="1106.1" y="241.5"/>
<use href="#dot" x="1106.1" y="956.5"/>
<use href="#dot" x="934.8" y="289.6"/>
<use href="#dot" x="934.8" y="908.4"/>
<use href="#dot" x="1148.8" y="289.6"/>
<use href="#dot" x="1148.8" y="908.4"/>
<use href="#dot" x="968.5" y="353.0"/>
<use href="#dot" x="968.5" y="845.0"/>
<use href="#dot" x="1115.1" y="353.0"/>
<use href="#dot" x="1115.1" y="845.0"/>
<use href="#dot" x="968.5" y="423.0"/>
<use href="#dot" x="968.5" y="775.0"/>
<use href="#dot" x="1115.1" y="423.0"/>
<use href="#dot" x="1115.1" y="775.0"/>
<use href="#dot" x="968.5" y="494.0"/>
<use href="#dot" x="968.5" y="704.0"/>
<use href="#dot" x="1115.1" y="494.0"/>
<use href="#dot" x="1115.1" y="704.0"/>
<use href="#dot" x="968.5" y="565.0"/>
<use href="#dot" x="968.5" y="633.0"/>
<use href="#dot" x="1115.1" y="565.0"/>
<use href="#dot" x="1115.1" y="633.0"/>
<use href="#dot" x="1007.0" y="310.0"/>
<use href="#dot" x="1007.0" y="888.0"/>
<use href="#dot" x="1076.6" y="310.0"/>
<use href="#dot" x="1076.6" y="888.0"/>
<use href="#dot" x="1041.8" y="142.0"/>
<use href="#dot" x="1041.8" y="1056.0"/>
<use href="#dot" x="1041.8" y="198.0"/>
<use href="#dot" x="1041.8" y="1000.0"/>
<use href="#dot" x="1041.8" y="255.0"/>
<use href="#dot" x="1041.8" y="943.0"/>
<use href="#dot" x="1041.8" y="356.0"/>
<use href="#dot" x="1041.8" y="842.0"/>
<use href="#dot" x="1041.8" y="414.5"/>
<use href="#dot" x="1041.8" y="783.5"/>
<use href="#dot" x="912.0" y="599.0"/>
<use href="#dot" x="1171.6" y="599.0"/>
</g>
</svg>
<svg width="1200" height="1200" viewBox="0 0 1200 1200">
 <!-- clock icon -->
 <g>
  <path class="ic" d="M157,168 A65,65 0 1 1 92,235" stroke-width="13.4" style="stroke-linecap:round"/>
  <path d="M93,203.5 L72.5,237 L113,237 Z" fill="#abcbe6"/>
  <path class="ic" d="M157,194.8 L157,236 L136.5,256.5" stroke-width="12.8" style="stroke-linejoin:bevel"/>
 </g>
 <!-- circles icon -->
 <g fill="#abcbe6">
  <circle cx="89.5" cy="393.7" r="18.5"/><circle cx="132.6" cy="393.7" r="18.5"/><circle cx="175.7" cy="393.7" r="18.5"/><circle cx="218.8" cy="393.7" r="18.5"/>
  <circle cx="64.4" cy="432.6" r="18.5"/><circle cx="107.5" cy="432.6" r="18.5"/><circle cx="150.6" cy="432.6" r="18.5"/><circle cx="193.7" cy="432.6" r="18.5"/><circle cx="236.8" cy="432.6" r="18.5"/>
  <circle cx="89.5" cy="472.3" r="18.5"/><circle cx="132.6" cy="472.3" r="18.5"/><circle cx="175.7" cy="472.3" r="18.5"/><circle cx="218.8" cy="472.3" r="18.5"/>
 </g>
 <!-- tooth icon -->
 <g class="ic" stroke-width="6.1">
  <path d="M124.0,729.5 C121.7,728.5 118.7,724.2 116.0,720.0 C113.3,715.8 110.7,710.3 108.0,704.0 C105.3,697.7 102.5,689.3 100.0,682.0 C97.5,674.7 94.9,667.0 93.0,660.0 C91.1,653.0 89.4,645.8 88.5,640.0 C87.6,634.2 87.0,629.2 87.5,625.0 C88.0,620.8 89.2,617.4 91.5,614.5 C93.8,611.6 97.1,609.1 101.0,607.5 C104.9,605.9 110.2,605.1 115.0,605.0 C119.8,604.9 125.0,606.5 130.0,607.0 C135.0,607.5 140.3,608.6 145.0,608.2 C149.7,607.8 153.7,605.6 158.0,604.7 C162.3,603.8 166.5,602.8 171.0,603.0 C175.5,603.2 180.8,604.1 185.0,606.0 C189.2,607.9 193.2,610.7 196.0,614.5 C198.8,618.3 200.8,623.1 202.0,629.0 C203.2,634.9 203.4,642.3 203.0,650.0 C202.6,657.7 201.2,666.7 199.5,675.0 C197.8,683.3 194.9,692.8 192.5,700.0 C190.1,707.2 187.6,713.3 185.0,718.0 C182.4,722.7 179.5,726.8 177.0,728.3 C174.5,729.8 172.5,729.3 170.0,727.0 C167.5,724.7 164.5,719.3 162.0,714.5 C159.5,709.7 156.9,702.0 155.0,698.0 C153.1,694.0 152.1,692.0 150.5,690.8 C148.9,689.6 147.1,689.6 145.5,690.8 C143.9,692.0 142.8,694.0 141.0,698.0 C139.2,702.0 136.8,710.3 135.0,715.0 C133.2,719.7 131.8,723.6 130.0,726.0 C128.2,728.4 126.3,730.5 124.0,729.5Z"/>
  <path d="M124.0,606.5 C125.7,607.0 130.3,608.5 134.0,609.5 C137.7,610.5 142.3,611.5 146.0,612.2 C149.7,613.0 152.9,613.4 156.0,614.0 C159.1,614.6 163.1,615.7 164.5,616.0"/>
  <path d="M177.0,620.0 C178.0,621.5 181.3,625.2 183.0,629.0 C184.7,632.8 186.3,638.2 187.2,643.0 C188.1,647.8 188.4,652.5 188.2,658.0 C188.0,663.5 187.2,670.3 186.0,676.0 C184.8,681.7 182.0,689.3 181.2,692.0"/>
 </g>
 <!-- intestine icon -->
 <g class="ic" stroke-width="6.2">
  <path d="M147,883.5 Q161.7,883.5 161.7,869 L161.7,842 Q161.7,838.2 158,838.2 L143,838.2 Q139.2,838.2 139.2,842 L139.2,857 Q139.2,864.8 131.5,864.8 L121.9,864.8 A18.72,18.72 0 0 0 121.9,902.2"/>
  <path d="M121.9,883.5 L179.2,883.5 A18.72,18.72 0 0 1 179.2,921"/>
  <path d="M179.2,902.2 L105.3,902.2 A18.72,18.72 0 0 0 105.3,939.7 L196.5,939.7"/>
  <path d="M105.3,921 L196.5,921 A18.72,18.72 0 0 1 196.5,958.4 L121.9,958.4"/>
  <path d="M121.9,939.7 A18.72,18.72 0 0 0 121.9,977.1 L179.2,977.1"/>
  <path d="M179.2,958.4 A18.72,18.72 0 0 1 179.2,995.8 L172,995.8 Q162.7,995.8 162.7,1004 L162.7,1018.5 Q162.7,1022.5 158.7,1022.5 L144.2,1022.5 Q140.2,1022.5 140.2,1018.5 L140.2,988 Q140.2,977.1 151,977.1"/>
 </g>
 <!-- text -->
 <g class="t">
  <text x="310.6" y="223.6" textLength="199.1" lengthAdjust="spacingAndGlyphs">Distracts</text>
  <text x="311.7" y="276.3" textLength="172.5" lengthAdjust="spacingAndGlyphs">&amp; calms</text>
  <text x="308.1" y="399.9" textLength="182.8" lengthAdjust="spacingAndGlyphs">Multiple</text>
  <text x="309.4" y="451.5" textLength="255.4" lengthAdjust="spacingAndGlyphs">suctions for</text>
  <text x="310.3" y="503.4" textLength="343.1" lengthAdjust="spacingAndGlyphs">added strength</text>
  <text x="307.7" y="667.6" textLength="202.0" lengthAdjust="spacingAndGlyphs">Supports</text>
  <text x="307.1" y="720.3" textLength="242.2" lengthAdjust="spacingAndGlyphs">oral health</text>
  <text x="301.6" y="895.9" textLength="262.9" lengthAdjust="spacingAndGlyphs">Slow eating</text>
  <text x="300.6" y="947.9" textLength="205.7" lengthAdjust="spacingAndGlyphs">improves</text>
  <text x="301.7" y="999.8" textLength="208.1" lengthAdjust="spacingAndGlyphs">digestion</text>
 </g>
</svg>
</body></html>
